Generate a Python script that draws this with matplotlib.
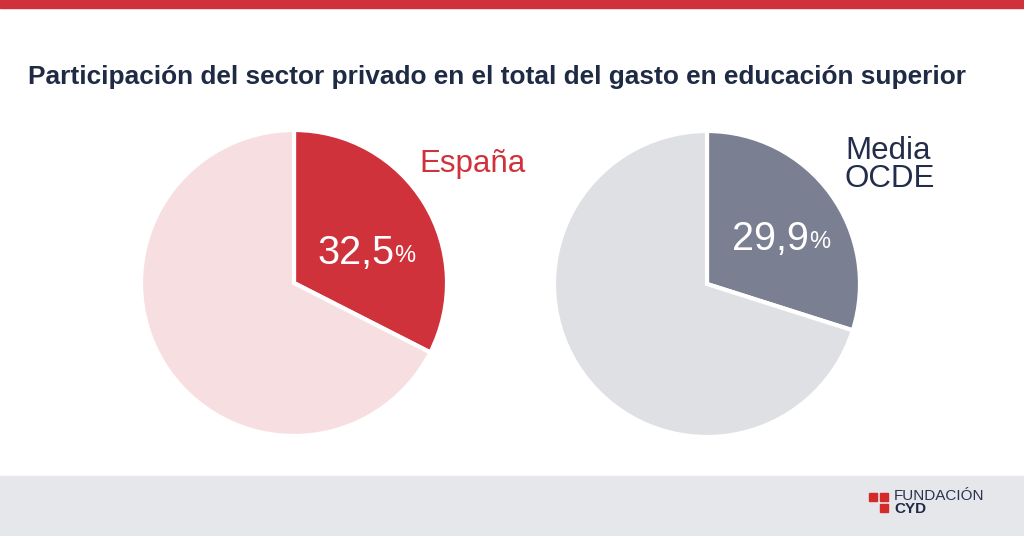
import matplotlib
matplotlib.use("Agg")
import matplotlib.pyplot as plt
from matplotlib.patches import Rectangle

plt.rcParams['font.family'] = ['Liberation Sans', 'DejaVu Sans']

# data
labels = ["España", "Media\nOCDE"]
private_share = [32.5, 29.9]
value_text = ["32,5", "29,9"]
main_colors = ["#d0323b", "#7a7f91"]
rest_colors = ["#f7dfe1", "#dfe0e4"]
label_colors = ["#d0323b", "#232c4a"]

W, H = 1024, 536
fig = plt.figure(figsize=(W / 100, H / 100), dpi=100)
ax = fig.add_axes([0, 0, 1, 1])

def py(y):
    # image pixel row -> data y
    return H - y

centers = [(294, py(283)), (707, py(284))]
radius = 153

for i in range(2):
    ax.pie([private_share[i], 100 - private_share[i]], center=centers[i], radius=radius,
           startangle=90, counterclock=False,
           colors=[main_colors[i], rest_colors[i]],
           wedgeprops=dict(edgecolor="white", linewidth=3))

ax.set_xlim(0, W)
ax.set_ylim(0, H)
ax.set_aspect("equal")
ax.set_axis_off()

# top red band and grey footer
ax.add_patch(Rectangle((0, py(8)), W, 8, color="#d0323b", zorder=0))
ax.add_patch(Rectangle((0, 0), W, py(476), color="#e6e7ea", zorder=0))

ax.text(28, py(77), "Participación del sector privado en el total del gasto en educación superior",
        fontsize=18.9, fontweight="bold", color="#1f2a44", va="center", ha="left")

# values inside wedges
num_pos = [(317, py(253)), (732, py(239))]
for i in range(2):
    t = ax.text(num_pos[i][0], num_pos[i][1], value_text[i], fontsize=28.5, color="white",
                va="center", ha="left")
    ax.annotate("%", xy=(1, 0.12), xycoords=t, fontsize=17, color="white",
                va="bottom", ha="left")

# series labels
ax.text(419, py(164), labels[0], fontsize=22.5, color=label_colors[0], va="center", ha="left")
ax.text(845, py(165), labels[1], fontsize=22.5, color=label_colors[1], va="center", ha="left",
        linespacing=0.95)

# logo
for (x, y) in [(869, 493), (880, 493), (880, 504)]:
    ax.add_patch(Rectangle((x, py(y + 8)), 8, 8, color="#d42a2a", zorder=2))
ax.text(894, py(496), "FUNDACIÓN", fontsize=11, color="#2a3350", va="center", ha="left")
ax.text(894, py(509), "CYD", fontsize=11, fontweight="bold", color="#1f2a44", va="center", ha="left")

fig.savefig("out.png", dpi=100)
